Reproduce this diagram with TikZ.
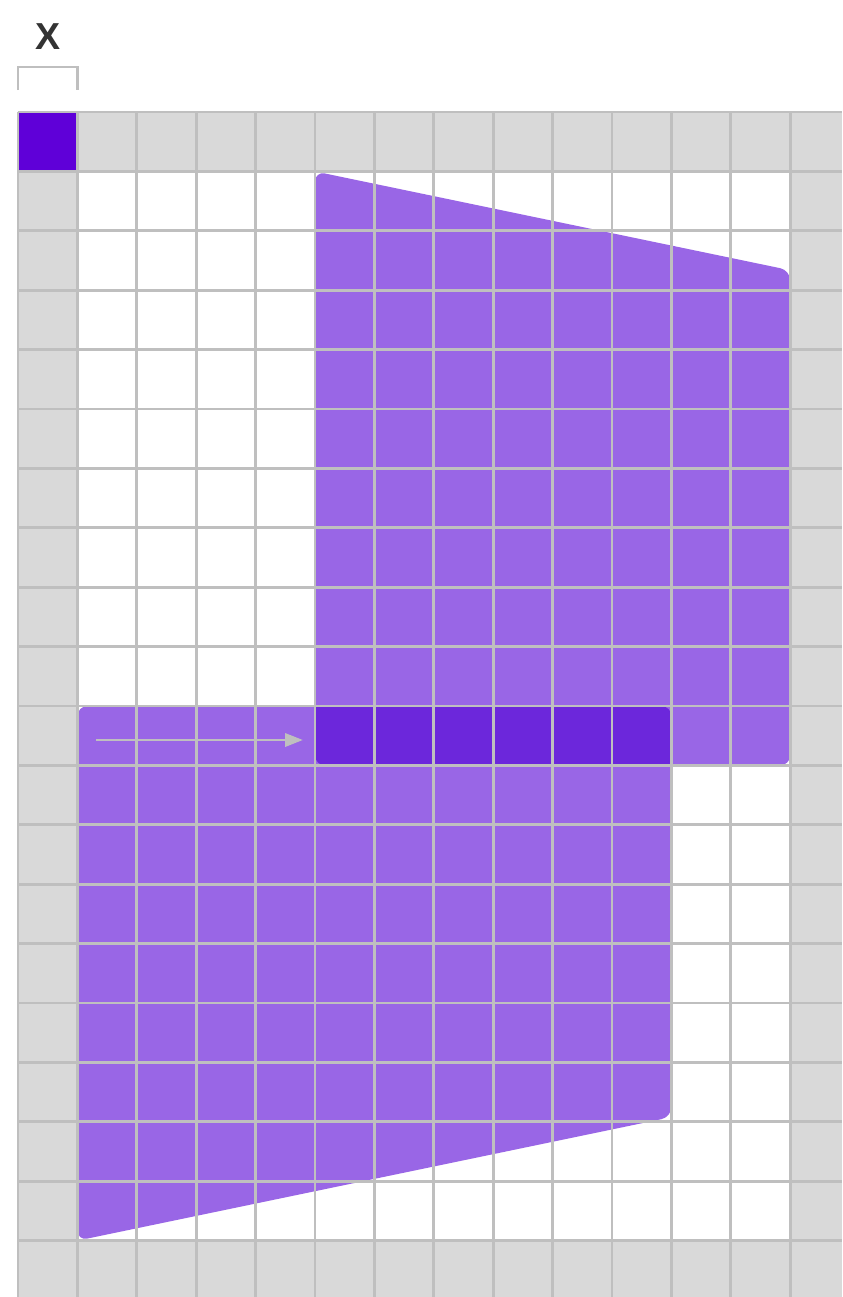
\documentclass[tikz,border=0pt]{standalone}
\usepackage{fontspec}
\setsansfont{Liberation Sans}
\usetikzlibrary{arrows.meta}
\definecolor{cellgray}{HTML}{D9D9D9}
\definecolor{gridline}{HTML}{BFBFBF}
\definecolor{lilac}{HTML}{9966E6}
\definecolor{deeplilac}{HTML}{6C27DB}
\definecolor{cornercell}{HTML}{5F00D8}
\definecolor{labelgray}{HTML}{333333}
\tikzset{
	tri/.tip={Triangle[length=0.3cm, width=0.22cm]},
	gridpen/.style={gridline, line width=1.4pt},
	patch/.style={rounded corners=0.17cm},
}

\begin{document}
\begin{tikzpicture}
	\useasboundingbox (-0.303,1.886) rectangle (13.872,-19.949);
	
	% Border cells and inner field
	\fill[cellgray] (0,0) rectangle (13.872,-19.949);
	\fill[white] (1,-1) rectangle (13,-19);
	\fill[cornercell] (0,0) rectangle (1,-1);
	
	% Slanted patches
	\fill[lilac, patch] (1,-10) -- (11,-10) -- (11,-16.92) -- (1,-19) -- cycle;
	\fill[lilac, patch] (5,-11) -- (5,-1) -- (13,-2.664) -- (13,-11) -- cycle;
	
	% Overlap row
	\begin{scope}
		\clip[patch] (5,-11) -- (5,-1) -- (13,-2.664) -- (13,-11) -- cycle;
		\fill[deeplilac, patch] (1,-10) -- (11,-10) -- (11,-16.92) -- (1,-19) -- cycle;
	\end{scope}
	
	% Grid
	\foreach \c in {0,...,13}
		\draw[gridpen] (\c,0) -- (\c,-19.949);
	\foreach \r in {0,...,19}
		\draw[gridpen] (0,-\r) -- (13.872,-\r);
	
	% Shift arrow
	\coordinate (tail) at (1.313,-10.572);
	\coordinate (head) at (4.798,-10.572);
	\draw[gridpen, -tri] (tail) -- (head);
	
	% Cell width marker
	\coordinate (brl) at (0,0.37);
	\coordinate (brr) at (1,0.37);
	\draw[gridpen] (brl) -- ++(0,0.388) -| (brr);
	\node[font=\sffamily\bfseries\fontsize{18}{18}\selectfont, text=labelgray] (xlabel) at (0.505,1.263) {X};
\end{tikzpicture}
\end{document}
